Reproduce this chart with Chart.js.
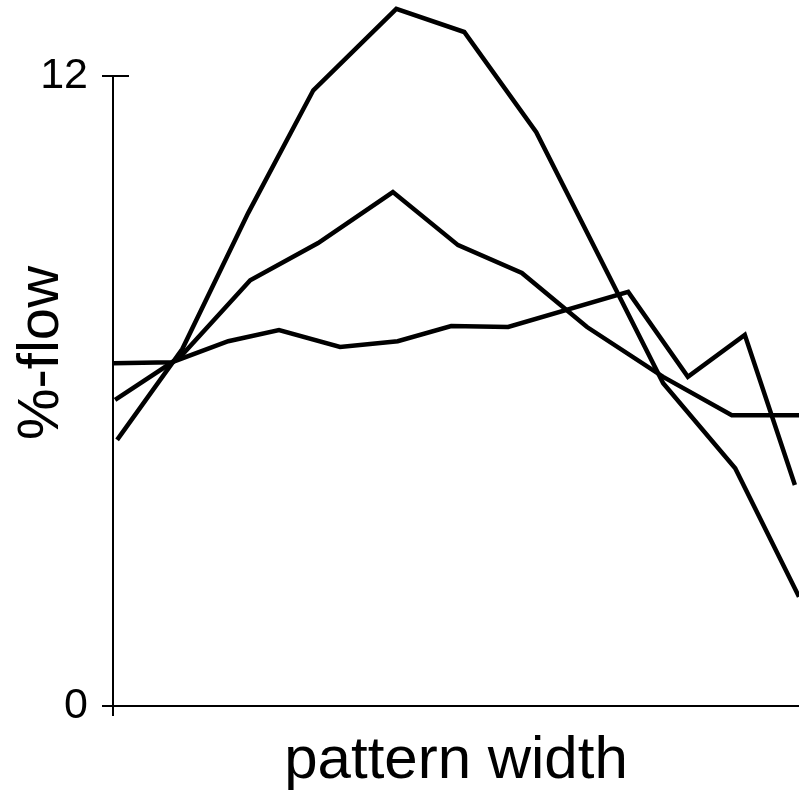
<!DOCTYPE html>
<html>
<head>
<meta charset="utf-8">
<script src="https://cdn.jsdelivr.net/npm/chart.js@4"></script>
<style>
  html, body { margin: 0; padding: 0; background: #fff; }
  #wrap { width: 799px; height: 793px; }
</style>
</head>
<body>
<div id="wrap"><canvas id="flowChart"></canvas></div>
<script>
// --- Datos (x en unidades de ancho 0..10, y en %-flow) ---
const peakX = [0.06, 1.01, 1.97, 2.92, 4.13, 5.12, 6.17, 7.10, 8.02, 9.07, 10.0];
const peakY = [5.07, 6.80, 9.39, 11.73, 13.28, 12.84, 10.93, 8.53, 6.15, 4.53, 2.08];

const midX = [0.03, 0.98, 2.0, 2.99, 4.08, 5.03, 5.96, 6.91, 8.02, 9.02, 10.0];
const midY = [5.83, 6.65, 8.11, 8.82, 9.79, 8.78, 8.25, 7.22, 6.27, 5.54, 5.54];

const flatX = [0, 0.86, 1.68, 2.42, 3.31, 4.15, 4.93, 5.76, 7.51, 8.38, 9.21, 9.94];
const flatY = [6.53, 6.55, 6.95, 7.16, 6.84, 6.95, 7.24, 7.22, 7.89, 6.27, 7.07, 4.21];

const yTicks = [0, 12];

const toPoints = (xs, ys) => xs.map((x, i) => ({ x: x, y: ys[i] }));

const FONT = "'Liberation Sans', Arial, sans-serif";

function lineSet(xs, ys) {
  return {
    data: toPoints(xs, ys),
    borderColor: '#000',
    borderWidth: 4.5,
    pointRadius: 0,
    fill: false,
    tension: 0
  };
}

// eje vertical solo desde el 12 hasta algo debajo del 0, y marca del 12 cruzando el eje
const yAxisLine = {
  id: 'yAxisLine',
  afterDraw(chart) {
    const ctx = chart.ctx;
    const y = chart.scales.y;
    const left = chart.chartArea.left;
    const topTick = Math.round(y.getPixelForValue(yTicks[yTicks.length - 1]));
    ctx.save();
    ctx.strokeStyle = '#000';
    ctx.lineWidth = 2;
    ctx.beginPath();
    ctx.moveTo(left, topTick);
    ctx.lineTo(left, chart.chartArea.bottom + 10);
    ctx.moveTo(left, topTick);
    ctx.lineTo(left + 16, topTick);
    ctx.stroke();
    ctx.restore();
  }
};

new Chart(document.getElementById('flowChart'), {
  type: 'line',
  data: {
    datasets: [
      lineSet(peakX, peakY),
      lineSet(midX, midY),
      lineSet(flatX, flatY)
    ]
  },
  options: {
    responsive: true,
    maintainAspectRatio: false,
    animation: false,
    layout: { padding: 0 },
    plugins: { legend: { display: false }, tooltip: { enabled: false } },
    scales: {
      x: {
        type: 'linear',
        min: 0,
        max: 10,
        grid: { display: false },
        border: { display: true, color: '#000', width: 2 },
        ticks: { display: false },
        title: {
          display: true,
          text: 'pattern width',
          color: '#000',
          font: { family: FONT, size: 60, lineHeight: 1 },
          padding: { top: 0, bottom: 2 }
        },
        afterFit(scale) { scale.height = 87; scale.paddingLeft = 0; scale.paddingRight = 0; }
      },
      y: {
        min: 0,
        max: 13.45,
        afterBuildTicks(scale) { scale.ticks = yTicks.map(v => ({ value: v })); },
        grid: {
          display: true,
          drawOnChartArea: false,
          drawTicks: true,
          tickLength: 11,
          color: '#000',
          lineWidth: 2
        },
        border: { display: false },
        ticks: {
          color: '#000',
          padding: 14,
          font: { family: FONT, size: 43 }
        },
        title: {
          display: true,
          text: '%-flow',
          color: '#000',
          font: { family: FONT, size: 58, lineHeight: 1 },
          padding: { top: 13, bottom: 0 }
        },
        afterFit(scale) { scale.width = 113; scale.paddingTop = 0; scale.paddingBottom = 0; }
      }
    }
  },
  plugins: [yAxisLine]
});
</script>
</body>
</html>
